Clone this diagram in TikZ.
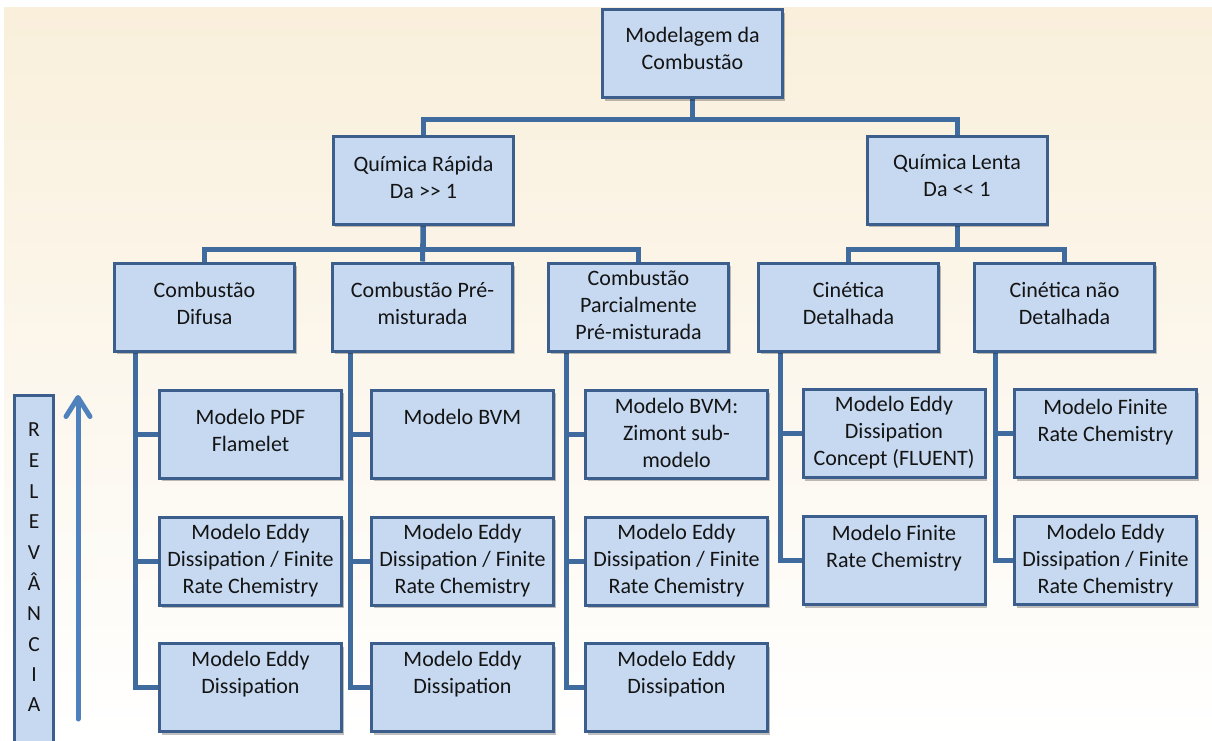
\documentclass[tikz,border=0pt]{standalone}
\usepackage{fontspec}
\setmainfont{Carlito}[Ligatures=TeXOff]
\usetikzlibrary{shadows,arrows.meta}
\definecolor{boxfill}{HTML}{C6D9F1}
\definecolor{boxline}{HTML}{3B5E8C}
\definecolor{conn}{HTML}{3F6B9F}
\definecolor{arrowc}{HTML}{4F81BD}
\definecolor{txtc}{HTML}{141414}
\definecolor{bgtop}{HTML}{F9EFDB}
\pgfdeclarelayer{bg}
\pgfdeclarelayer{edges}
\pgfsetlayers{bg,edges,main}
\begin{document}
\begin{tikzpicture}[x=1pt,y=-1pt,
  lvl/.style={draw=boxline, line width=3pt, fill=boxfill, minimum width=180pt, minimum height=88pt, inner sep=0pt,
    drop shadow={shadow xshift=2pt, shadow yshift=-3pt, opacity=0.25, fill=black}},
  leaf/.style={lvl, minimum width=182pt},
  txt/.style={font=\fontsize{22}{27}\selectfont, align=center, text=txtc, inner sep=0pt},
  relt/.style={font=\fontsize{21.5pt}{24pt}\selectfont, text=txtc, inner sep=0pt},
  link/.style={draw=conn, line width=5pt, line join=miter}]
\useasboundingbox (0,0) rectangle (1212,740);
\begin{pgfonlayer}{bg}
\fill[top color=bgtop, bottom color=white] (4,7) rectangle (1212,740);
\end{pgfonlayer}

% top levels
\node[lvl] (top) at (692.5,53.5) {};
\node[txt] (ttop) at (692.5,48.5) {Modelagem da\\Combustão};
\node[lvl] (qr) at (423,180) {};
\node[txt] (tqr) at (423.5,177) {Química Rápida\\Da >> 1};
\node[lvl] (ql) at (957,180) {};
\node[txt] (tql) at (957,176) {Química Lenta\\Da << 1};

% third level
\node[lvl] (dif) at (204.5,307) {};
\node[txt] (tdif) at (204.5,303) {Combustão\\Difusa};
\node[lvl] (pre) at (422.5,307) {};
\node[txt] (tpre) at (422.5,303) {Combustão Pré-\\misturada};
\node[lvl] (par) at (638.5,307) {};
\node[txt] (tpar) at (638.5,305) {Combustão\\Parcialmente\\Pré-misturada};
\node[lvl] (cdet) at (848.5,307) {};
\node[txt] (tcdet) at (848.5,303.5) {Cinética\\Detalhada};
\node[lvl] (cnao) at (1064.5,307) {};
\node[txt] (tcnao) at (1064.5,303) {Cinética não\\Detalhada};

% leaves column 1
\node[leaf] (a1) at (250.5,434) {};
\node[txt] (ta1) at (250.5,430) {Modelo PDF\\Flamelet};
\node[leaf] (a2) at (250.5,561) {};
\node[txt] (ta2) at (250.5,561) {Modelo Eddy\\Dissipation / Finite\\Rate Chemistry};
\node[leaf] (a3) at (250.5,687.5) {};
\node[txt] (ta3) at (250.5,674.5) {Modelo Eddy\\Dissipation};
% column 2
\node[leaf] (b1) at (462.5,434) {};
\node[txt] (tb1) at (462.5,417) {Modelo BVM};
\node[leaf] (b2) at (462.5,561) {};
\node[txt] (tb2) at (462.5,561) {Modelo Eddy\\Dissipation / Finite\\Rate Chemistry};
\node[leaf] (b3) at (462.5,687.5) {};
\node[txt] (tb3) at (462.5,674.5) {Modelo Eddy\\Dissipation};
% column 3
\node[leaf] (c1) at (676.5,434) {};
\node[txt] (tc1) at (676.5,433) {Modelo BVM:\\Zimont sub-\\modelo};
\node[leaf] (c2) at (676.5,561) {};
\node[txt] (tc2) at (676.5,561) {Modelo Eddy\\Dissipation / Finite\\Rate Chemistry};
\node[leaf] (c3) at (676.5,687.5) {};
\node[txt] (tc3) at (676.5,674.5) {Modelo Eddy\\Dissipation};
% column 4
\node[leaf] (d1) at (894,433.5) {};
\node[txt] (td1) at (894,433) {Modelo Eddy\\Dissipation\\Concept (FLUENT)};
\node[leaf] (d2) at (894,560.5) {};
\node[txt] (td2) at (894,548.5) {Modelo Finite\\Rate Chemistry};
% column 5
\node[leaf] (e1) at (1105.5,433.5) {};
\node[txt] (te1) at (1105.5,422) {Modelo Finite\\Rate Chemistry};
\node[leaf] (e2) at (1105.5,560.5) {};
\node[txt] (te2) at (1105.5,561) {Modelo Eddy\\Dissipation / Finite\\Rate Chemistry};

% relevance
\node[draw=boxline, line width=3pt, fill=boxfill, minimum width=39pt, minimum height=349pt, inner sep=0pt] (rel) at (34,570) {};
\node[relt] (r1) at (34,430) {R};
\node[relt] (r2) at (34,461) {E};
\node[relt] (r3) at (34,491.5) {L};
\node[relt] (r4) at (34,522) {E};
\node[relt] (r5) at (34,552.5) {V};
\node[relt,anchor=base] (r6) at (34,590) {Â};
\node[relt] (r7) at (34,614) {N};
\node[relt] (r8) at (34,644.5) {C};
\node[relt] (r9) at (34,675) {I};
\node[relt] (r10) at (34,705) {A};
\coordinate (arrB) at (78,719);
\coordinate (arrT) at (78,395);
\draw[arrowc, line width=5pt, line cap=round, -{Straight Barb[length=19pt,width=24pt,round]}] (arrB) -- (arrT);

% connectors
\begin{pgfonlayer}{edges}
\draw[link] (top.south) -- ++(0,20.5) -| (qr.north);
\draw[link] (top.south) -- ++(0,20.5) -| (ql.north);
\draw[link] (qr.south) -- ++(0,24) -| (dif.north);
\draw[link] (qr.south) -- (pre.north);
\draw[link] (qr.south) -- ++(0,24) -| (par.north);
\draw[link] (ql.south) -- ++(0,24) -| (cdet.north);
\draw[link] (ql.south) -- ++(0,24) -| (cnao.north);
\draw[link] ([xshift=22.5pt]dif.south west) |- (a1.west);
\draw[link] ([xshift=22.5pt]dif.south west) |- (a2.west);
\draw[link] ([xshift=22.5pt]dif.south west) |- (a3.west);
\draw[link] ([xshift=19.5pt]pre.south west) |- (b1.west);
\draw[link] ([xshift=19.5pt]pre.south west) |- (b2.west);
\draw[link] ([xshift=19.5pt]pre.south west) |- (b3.west);
\draw[link] ([xshift=19.5pt]par.south west) |- (c1.west);
\draw[link] ([xshift=19.5pt]par.south west) |- (c2.west);
\draw[link] ([xshift=19.5pt]par.south west) |- (c3.west);
\draw[link] ([xshift=23.5pt]cdet.south west) |- (d1.west);
\draw[link] ([xshift=23.5pt]cdet.south west) |- (d2.west);
\draw[link] ([xshift=22.5pt]cnao.south west) |- (e1.west);
\draw[link] ([xshift=22.5pt]cnao.south west) |- (e2.west);
\end{pgfonlayer}
\end{tikzpicture}
\end{document}
